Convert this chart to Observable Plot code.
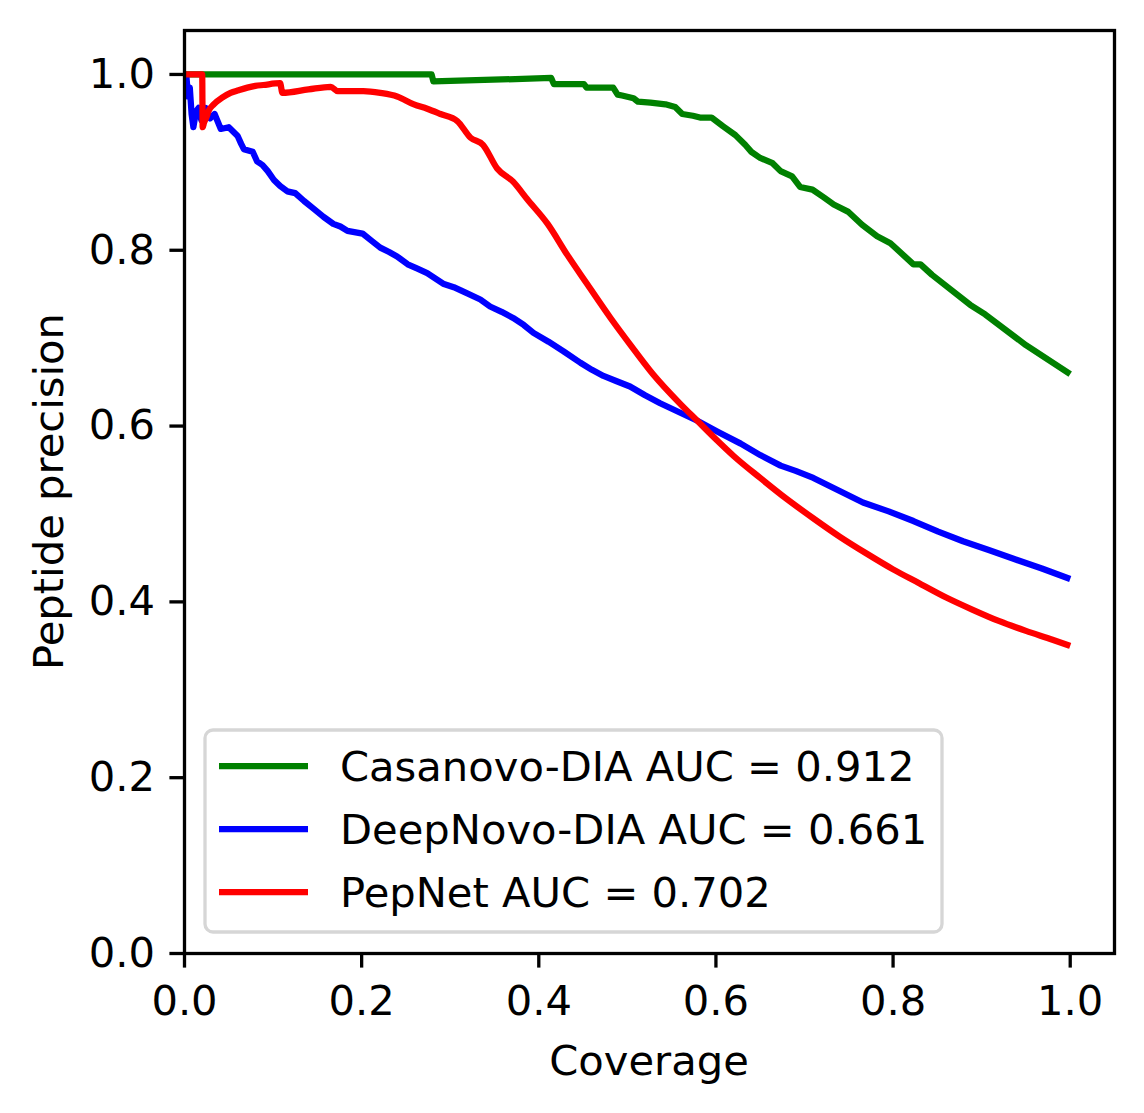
<!DOCTYPE html>
<html>
<head>
<meta charset="utf-8">
<script src="https://cdn.jsdelivr.net/npm/d3@7"></script>
<script src="https://cdn.jsdelivr.net/npm/@observablehq/plot@0.6"></script>
<style>
  html, body { margin: 0; padding: 0; background: white; }
  #chart { width: 1144px; height: 1113px; }
</style>
</head>
<body>
<div id="chart"></div>
<script>
// ---- data ----
const seriesNames = ["Casanovo-DIA AUC = 0.912", "DeepNovo-DIA AUC = 0.661", "PepNet AUC = 0.702"];
const seriesColors = ["#008000", "#0000ff", "#ff0000"];

const casanovo = [
  [0,1.0],[0.279,1.0],[0.281,0.992],[0.414,0.996],[0.417,0.989],[0.451,0.989],[0.454,0.985],
  [0.484,0.985],[0.489,0.977],[0.494,0.976],[0.507,0.973],[0.512,0.969],[0.526,0.968],
  [0.543,0.966],[0.554,0.963],[0.562,0.955],[0.574,0.953],[0.582,0.951],[0.595,0.951],
  [0.608,0.941],[0.622,0.931],[0.633,0.920],[0.640,0.912],[0.650,0.905],[0.664,0.899],
  [0.673,0.890],[0.686,0.884],[0.695,0.872],[0.709,0.869],[0.722,0.860],[0.733,0.852],
  [0.749,0.844],[0.765,0.829],[0.782,0.816],[0.797,0.808],[0.823,0.784],[0.831,0.784],
  [0.844,0.772],[0.887,0.738],[0.904,0.727],[0.950,0.692],[1.0,0.659]
];

const deepnovo = [
  [0.002,1.0],[0.004,0.975],[0.006,0.985],[0.008,0.955],[0.010,0.940],[0.013,0.958],
  [0.016,0.962],[0.019,0.948],[0.024,0.962],[0.029,0.950],[0.034,0.955],[0.041,0.938],
  [0.050,0.940],[0.060,0.930],[0.064,0.921],[0.067,0.915],[0.077,0.912],[0.082,0.901],
  [0.088,0.897],[0.094,0.890],[0.101,0.880],[0.108,0.873],[0.116,0.867],[0.125,0.865],
  [0.135,0.856],[0.146,0.847],[0.157,0.838],[0.168,0.830],[0.176,0.827],[0.184,0.822],
  [0.201,0.819],[0.211,0.811],[0.221,0.803],[0.231,0.798],[0.240,0.793],[0.252,0.784],
  [0.263,0.779],[0.274,0.774],[0.283,0.768],[0.292,0.762],[0.304,0.758],[0.315,0.753],
  [0.334,0.744],[0.345,0.736],[0.358,0.730],[0.371,0.723],[0.383,0.715],[0.394,0.706],
  [0.411,0.696],[0.428,0.685],[0.447,0.672],[0.460,0.664],[0.473,0.657],[0.488,0.651],
  [0.503,0.645],[0.520,0.635],[0.537,0.626],[0.558,0.616],[0.579,0.606],[0.603,0.593],
  [0.628,0.580],[0.650,0.567],[0.673,0.555],[0.690,0.549],[0.710,0.541],[0.738,0.527],
  [0.766,0.513],[0.795,0.503],[0.823,0.492],[0.851,0.480],[0.879,0.469],[0.908,0.459],
  [0.936,0.449],[0.968,0.438],[1.0,0.426]
];

const pepnet = [
  [0,1.0],[0.020,1.0],[0.0205,0.940],[0.022,0.945],[0.025,0.952],[0.027,0.958],[0.033,0.966],
  [0.043,0.974],[0.052,0.979],[0.061,0.982],[0.071,0.985],[0.080,0.987],[0.089,0.988],
  [0.108,0.990],[0.1105,0.979],[0.140,0.983],[0.165,0.986],[0.173,0.981],[0.202,0.981],
  [0.221,0.979],[0.240,0.975],[0.259,0.966],[0.274,0.961],[0.289,0.955],[0.308,0.947],
  [0.323,0.928],[0.337,0.920],[0.353,0.893],[0.371,0.878],[0.387,0.858],[0.410,0.830],
  [0.432,0.795],[0.455,0.761],[0.481,0.723],[0.503,0.693],[0.529,0.659],[0.560,0.625],
  [0.579,0.606],[0.600,0.585],[0.620,0.566],[0.650,0.541],[0.680,0.517],[0.710,0.495],
  [0.740,0.474],[0.770,0.455],[0.800,0.437],[0.830,0.421],[0.860,0.405],[0.890,0.391],
  [0.920,0.378],[0.950,0.367],[0.980,0.357],[1.0,0.350]
];

const tickValues = [0, 0.2, 0.4, 0.6, 0.8, 1.0];
const xLabel = "Coverage";
const yLabel = "Peptide precision";

// ---- chart ----
const seriesData = [casanovo, deepnovo, pepnet];
const seriesCurves = ["linear", "linear", "monotone-x"];
const W = 1144, H = 1113;
const mL = 184, mR = 30, mT = 30, mB = 160;
const FS = 41.67;
const LW = 6.25;

const lineMarks = seriesData.map((s, i) =>
  Plot.line(s, {x: d => d[0], y: d => d[1], stroke: seriesColors[i], strokeWidth: LW,
    curve: seriesCurves[i], strokeLinejoin: "round", strokeLinecap: "butt"})
);

const plot = Plot.plot({
  width: W, height: H,
  marginLeft: mL, marginRight: mR, marginTop: mT, marginBottom: mB,
  style: {fontFamily: "'DejaVu Sans', sans-serif", fontSize: FS + "px", background: "white", color: "black"},
  x: {domain: [0, 1.05]},
  y: {domain: [0, 1.05]},
  marks: [
    ...lineMarks,
    Plot.frame({stroke: "black", strokeWidth: 3.3}),
    Plot.axisX({ticks: tickValues, tickFormat: d3.format(".1f"), tickSize: 14.6, tickPadding: 17,
      strokeWidth: 3.3, fontSize: FS, label: null}),
    Plot.axisY({ticks: tickValues, tickFormat: d3.format(".1f"), tickSize: 14.6, tickPadding: 15,
      strokeWidth: 3.3, fontSize: FS, label: null})
  ]
});

document.getElementById("chart").appendChild(plot);

// axis titles and legend added to the SVG
const svg = d3.select(plot);
const plotW = W - mL - mR, plotH = H - mT - mB;

svg.append("text")
  .attr("x", mL + plotW / 2).attr("y", 1075)
  .attr("text-anchor", "middle")
  .attr("font-size", FS).attr("fill", "black")
  .text(xLabel);

svg.append("text")
  .attr("transform", `translate(${63},${mT + plotH / 2}) rotate(-90)`)
  .attr("text-anchor", "middle")
  .attr("font-size", FS).attr("fill", "black")
  .text(yLabel);

const leg = svg.append("g");
leg.append("rect")
  .attr("x", 205).attr("y", 730).attr("width", 737).attr("height", 202)
  .attr("rx", 8).attr("ry", 8)
  .attr("fill", "white").attr("fill-opacity", 0.8)
  .attr("stroke", "#d6d6d6").attr("stroke-width", 3.3);

seriesNames.forEach((name, i) => {
  const cy = 766 + i * 63;
  leg.append("line")
    .attr("x1", 219).attr("x2", 308).attr("y1", cy).attr("y2", cy)
    .attr("stroke", seriesColors[i]).attr("stroke-width", LW);
  leg.append("text")
    .attr("x", 340).attr("y", cy + 15)
    .attr("text-anchor", "start")
    .attr("font-size", FS).attr("fill", "black")
    .text(name);
});
</script>
</body>
</html>
